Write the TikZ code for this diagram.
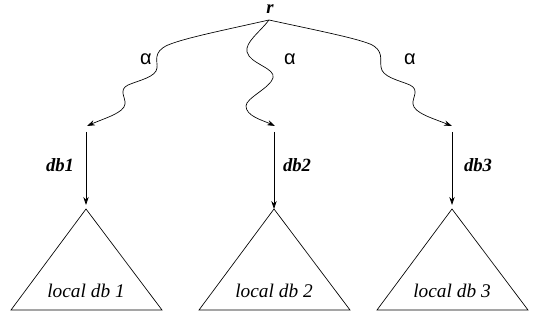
\documentclass[tikz,border=0pt]{standalone}
\usepackage{fontspec}
\setmainfont{Liberation Serif}
\newfontfamily\greekfont{Liberation Sans}
\usepackage{tikz}
\usetikzlibrary{arrows.meta, positioning}

\begin{document}
\begin{tikzpicture}[
    x=0.75pt, y=-0.75pt,
    wave/.style={-{Stealth[length=6pt, width=4pt, inset=2pt]}, line width=0.5pt},
    arr/.style={-{Stealth[length=6pt, width=4pt, inset=2pt]}, line width=0.5pt},
    tri/.style={line width=0.5pt},
    lbl/.style={font=\fontsize{14}{16}\selectfont\bfseries\itshape},
    alpha/.style={font=\greekfont\fontsize{15}{17}\selectfont},
    db/.style={font=\fontsize{14.5}{16}\selectfont\itshape}
]
\useasboundingbox (0,0) rectangle (540,320);

\node[lbl] (r) at (270,9) {r};
\coordinate (top) at (269,20);

% ends of the wavy edges
\coordinate (end1) at (87,126);
\coordinate (end2) at (275,126);
\coordinate (end3) at (452,126);

% wavy edges
\draw[wave] (top) .. controls (220,31) and (185,38) .. (168,45)
    .. controls (152,52) and (158,62) .. (157,68)
    .. controls (156,77) and (140,80) .. (128,85)
    .. controls (118,90) and (126,98) .. (125,104)
    .. controls (124,113) and (105,118) .. (end1);
\draw[wave] (top) .. controls (260,32) and (245,42) .. (247,52)
    .. controls (250,64) and (276,68) .. (273,78)
    .. controls (270,88) and (246,98) .. (246,106)
    .. controls (246,116) and (262,120) .. (end2);
\draw[wave] (top) .. controls (320,31) and (355,38) .. (370,44)
    .. controls (384,50) and (380,60) .. (381,67)
    .. controls (382,77) and (398,80) .. (410,85)
    .. controls (420,90) and (412,98) .. (413,104)
    .. controls (414,113) and (432,118) .. (end3);

\node[alpha] (a1) at (146,59) {α};
\node[alpha] (a2) at (290,59) {α};
\node[alpha] (a3) at (410,59) {α};

% local databases
\coordinate (src1) at (86,132);
\coordinate (src2) at (274,132);
\coordinate (src3) at (452,132);
\coordinate (apex1) at (86,209);
\coordinate (apex2) at (274,209);
\coordinate (apex3) at (452,209);

\draw[arr, shorten >=3pt] (src1) -- (apex1);
\draw[arr] (src2) -- (apex2);
\draw[arr, shorten >=3pt] (src3) -- (apex3);

\node[lbl] (db1) at (60,165) {db1};
\node[lbl] (db2) at (297,165) {db2};
\node[lbl] (db3) at (478,165) {db3};

\draw[tri] (apex1) -- ++(-75,101) -- ++(151,0) -- cycle;
\draw[tri] (apex2) -- ++(-75,101) -- ++(151,0) -- cycle;
\draw[tri] (apex3) -- ++(-75,101) -- ++(151,0) -- cycle;

\node[db] (local1) at (86,291) {local db 1};
\node[db] (local2) at (274,291) {local db 2};
\node[db] (local3) at (452,291) {local db 3};

\end{tikzpicture}
\end{document}
